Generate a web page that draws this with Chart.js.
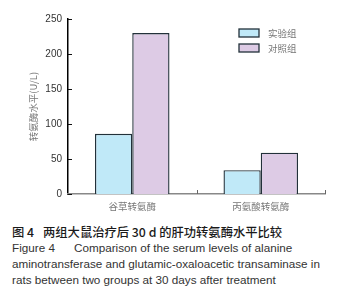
<!DOCTYPE html>
<html><head><meta charset="utf-8">
<script src="https://cdn.jsdelivr.net/npm/chart.js@4"></script>
<style>
html,body{margin:0;padding:0;background:#fff;width:350px;height:300px;overflow:hidden;}
#wrap{position:absolute;left:0;top:0;width:350px;height:215px;}
.cap{position:absolute;left:12px;white-space:nowrap;font-family:"Liberation Sans",Arial,sans-serif;font-size:11.7px;color:#333;}
.cn{font-family:"Noto Sans CJK SC",sans-serif;font-size:12.3px;color:#1a1a1a;font-weight:500;}
</style></head>
<body>
<div id="wrap"><canvas id="c" width="350" height="215"></canvas></div>
<div class="cap cn" style="top:223px;"><span style="display:inline-block;width:31px;">图 4</span>两组大鼠治疗后 30 d 的肝功转氨酶水平比较</div>
<div class="cap" style="top:241px;"><span style="display:inline-block;width:62px;">Figure 4</span>Comparison of the serum levels of alanine</div>
<div class="cap" style="top:257px;">aminotransferase and glutamic-oxaloacetic transaminase in</div>
<div class="cap" style="top:273px;">rats between two groups at 30 days after treatment</div>
<script>
const categories = ["谷草转氨酶", "丙氨酸转氨酶"];
const seriesNames = ["实验组", "对照组"];
const experimentValues = [86, 230];
const controlValues = [34, 59];
const yTicks = [0, 50, 100, 150, 200, 250];
const yTitle = "转氨酶水平(U/L)";

const expData = [experimentValues[0], controlValues[0]];
const ctlData = [experimentValues[1], controlValues[1]];

const tickPlugin = {
  id: 'tickPlugin',
  afterDraw(chart) {
    const ctx = chart.ctx;
    const y = chart.scales.y, x = chart.scales.x;
    const area = chart.chartArea;
    ctx.save();
    ctx.strokeStyle = '#111';
    ctx.lineWidth = 1;
    yTicks.forEach(v => {
      const py = Math.round(y.getPixelForValue(v)) + 0.5;
      ctx.beginPath(); ctx.moveTo(area.left, py); ctx.lineTo(area.left + 4, py); ctx.stroke();
    });
    ctx.strokeStyle = '#666';
    for (let i = 0; i < categories.length; i++) {
      const px = Math.round((x.getPixelForValue(i) + (i < categories.length - 1 ? x.getPixelForValue(i + 1) : 2 * x.getPixelForValue(i) - x.getPixelForValue(i - 1))) / 2) + 0.5;
      ctx.beginPath(); ctx.moveTo(px, area.bottom); ctx.lineTo(px, area.bottom - 4); ctx.stroke();
    }
    // legend
    const ds = chart.data.datasets;
    ctx.font = '9.5px "Noto Sans CJK SC", sans-serif';
    ctx.textBaseline = 'middle';
    ds.forEach((d, i) => {
      const bx = 239, by = 29 + i * 15;
      ctx.fillStyle = d.backgroundColor;
      ctx.fillRect(bx, by, 20, 8);
      ctx.strokeStyle = d.borderColor; ctx.lineWidth = 1.3;
      ctx.strokeRect(bx, by, 20, 8);
      ctx.fillStyle = '#777';
      ctx.fillText(d.label, 268, by + 4);
    });
    ctx.restore();
  }
};

new Chart(document.getElementById('c'), {
  type: 'bar',
  data: {
    labels: categories,
    datasets: [
      { label: seriesNames[0], data: expData, backgroundColor: '#c0e9f8', borderColor: '#22313a', borderWidth: 1.4, borderSkipped: 'bottom', categoryPercentage: 0.58, barPercentage: 1 },
      { label: seriesNames[1], data: ctlData, backgroundColor: '#ddcbe5', borderColor: '#22313a', borderWidth: 1.4, borderSkipped: 'bottom', categoryPercentage: 0.58, barPercentage: 1 }
    ]
  },
  options: {
    responsive: false,
    animation: false,
    events: [],
    layout: { padding: { left: 0, right: 25, top: 19, bottom: 0 } },
    plugins: { legend: { display: false }, tooltip: { enabled: false } },
    scales: {
      y: {
        min: 0, max: 250,
        afterFit(s) { s.width = 68; },
        afterBuildTicks(s) { s.ticks = yTicks.map(v => ({ value: v })); },
        grid: { display: false, drawTicks: false },
        border: { display: true, color: '#000', width: 1.5 },
        ticks: { padding: 6, color: '#333', font: { family: '"Liberation Sans", Arial, sans-serif', size: 10 } },
        title: { display: true, text: yTitle, color: '#777', padding: { top: 28, bottom: 0 }, font: { family: '"Noto Sans CJK SC", sans-serif', size: 9.5 } }
      },
      x: {
        afterFit(s) { s.height = 21; },
        grid: { display: false, drawTicks: false },
        border: { display: true, color: '#888', width: 1.5 },
        ticks: { padding: 7, color: '#777', font: { family: '"Noto Sans CJK SC", sans-serif', size: 9.5 } }
      }
    }
  },
  plugins: [tickPlugin]
});
</script>
</body></html>
